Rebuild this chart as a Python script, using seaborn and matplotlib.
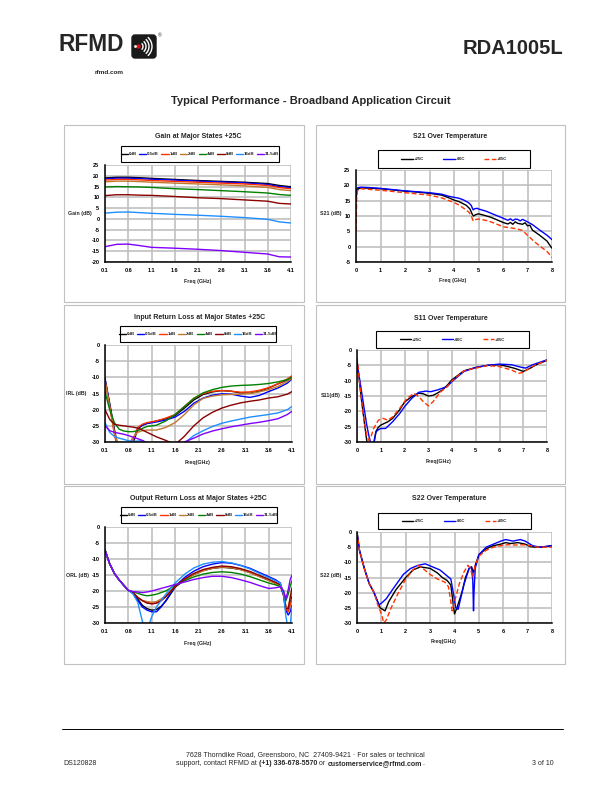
import matplotlib
matplotlib.use("Agg")
import numpy as np
import pandas as pd
import matplotlib.pyplot as plt
import seaborn as sns
from matplotlib.lines import Line2D
from matplotlib.patches import Rectangle, FancyBboxPatch, Circle, Arc

# ---------------- data ----------------
states = ["0dB", "0.5dB", "1dB", "2dB", "4dB", "8dB", "16dB", "31.5dB"]
state_colors = ["#000000", "#0000ff", "#ff3300", "#c07830", "#008000", "#8b0000", "#1e8fff", "#8000ff"]

gain_freq = [0.1, 0.35, 0.6, 0.85, 1.1, 1.6, 2.1, 2.6, 3.1, 3.6, 3.85, 4.1]
gain_0dB = [19.0, 19.3, 19.3, 19.1, 18.8, 18.3, 17.8, 17.4, 17.0, 16.4, 15.5, 14.9]
gain_05dB = [18.6, 18.9, 18.9, 18.7, 18.4, 18.0, 17.5, 17.1, 16.7, 16.0, 15.0, 14.5]
gain_1dB = [18.0, 18.3, 18.3, 18.1, 17.8, 17.4, 17.0, 16.6, 16.2, 15.5, 14.5, 14.0]
gain_2dB = [17.2, 17.5, 17.5, 17.3, 17.0, 16.6, 16.2, 15.8, 15.3, 14.6, 13.6, 13.1]
gain_4dB = [14.8, 15.0, 14.9, 14.8, 14.6, 14.0, 13.6, 13.1, 12.6, 12.0, 11.3, 10.9]
gain_8dB = [10.8, 11.2, 11.2, 11.0, 10.9, 10.4, 9.8, 9.4, 8.8, 8.2, 7.2, 6.9]
gain_16dB = [2.7, 3.1, 3.2, 2.9, 2.6, 2.1, 1.7, 1.2, 0.6, -0.2, -1.4, -1.9]
gain_31dB = [-12.9, -11.8, -11.7, -12.4, -13.2, -13.6, -14.1, -14.7, -15.5, -16.3, -17.6, -17.7]

irl_freq = [0.1, 0.2, 0.3, 0.4, 0.5, 0.6, 0.7, 0.8, 0.9, 1.0, 1.2, 1.4, 1.6, 1.8, 2.0,
            2.2, 2.4, 2.6, 2.8, 3.0, 3.2, 3.4, 3.6, 3.8, 4.0, 4.1]
irl_0dB = [-10.5, -18, -26, -33, -37, -34, -30.5, -26, -24.8, -24.2, -23.5, -22.8, -21.8, -19.5, -17,
           -15.3, -14.5, -14.1, -14.3, -14.8, -14.9, -14.3, -13.3, -12, -10.8, -10]
irl_05dB = [-10.2, -18.5, -27, -34, -38, -34, -29.5, -25.8, -24.8, -24.3, -23.8, -23.2, -22.3, -20.5, -18,
            -16.4, -15.5, -15.1, -15.2, -15.8, -16.2, -15.6, -14.4, -13.3, -11.8, -10.5]
irl_1dB = [-11, -19, -27.5, -34, -38, -34, -29.5, -25.5, -24.5, -24, -23.5, -22.6, -21.5, -19, -16.5,
           -15, -14.3, -14.1, -14.3, -14.6, -14.5, -14, -13.2, -12, -10.5, -9.5]
irl_2dB = [-11, -19, -27, -32, -34, -31, -28.5, -27, -26.5, -26.3, -26.3, -25.5, -24, -21.5, -18.5,
           -16.5, -15.8, -15.4, -15.3, -15.2, -15, -14.5, -13.8, -12.8, -11.2, -10.4]
irl_4dB = [-14.5, -20, -24, -26, -26.6, -26.8, -26.8, -26.5, -25.8, -25.2, -24.8, -23.5, -21.5, -19, -16.5,
           -14.8, -13.8, -13.1, -12.7, -12.5, -12.4, -12.2, -11.9, -11.4, -10.7, -10]
irl_8dB = [-20, -23, -24.5, -24.8, -25, -25.2, -25.4, -25.7, -26.3, -27, -28.4, -29.5, -30.8, -28.2, -25,
           -22.5, -20.8, -19.5, -18.6, -17.9, -17.4, -17, -16.4, -16, -15.2, -14.4]
irl_16dB = [-24, -27, -28.3, -28.8, -29.2, -29.6, -29.8, -29.7, -29.6, -30.4, -32, -33, -32, -30.3, -28,
            -26.5, -25.2, -24.2, -23.5, -22.9, -22.3, -21.9, -21.5, -21, -20, -19]
irl_31dB = [-25, -26.5, -27, -27.3, -27.6, -28, -28.5, -29, -29.5, -30.3, -32, -33, -32, -30, -28.8,
            -27.5, -26.6, -25.9, -25.3, -24.8, -24.3, -23.9, -23.4, -22.8, -21.5, -20.5]

orl_freq = [0.1, 0.2, 0.3, 0.4, 0.5, 0.6, 0.7, 0.8, 0.9, 1.0, 1.1, 1.2, 1.3, 1.4, 1.6, 1.8,
            2.0, 2.2, 2.4, 2.6, 2.8, 3.0, 3.2, 3.4, 3.6, 3.75, 3.85, 3.92, 3.97, 4.02, 4.06, 4.1]
orl_0dB = [-7.2, -11.5, -14.5, -16.5, -18.2, -19.8, -20.5, -22.5, -24.5, -25.5, -26, -25.8, -24.8, -23.2, -18.8, -16.6,
           -14.8, -13.6, -12.9, -12.6, -12.8, -13.3, -14.2, -15.4, -16.6, -17.6, -18.3, -21.5, -26.5, -26, -23.5, -21.5]
orl_05dB = [-7.2, -11.5, -14.5, -16.5, -18.2, -19.8, -20.5, -23, -25, -26, -26.5, -26.5, -25, -23, -18.5, -15.8,
            -13.8, -12.4, -11.6, -11.1, -11.3, -12, -12.9, -14.2, -15.5, -16.5, -17.5, -21, -26, -27.5, -26.5, -24.5]
orl_1dB = [-7.2, -11.5, -14.5, -16.5, -18.2, -19.8, -20.5, -22, -23, -23.5, -24, -23.8, -23, -21.8, -18.5, -16.3,
           -14.7, -13.5, -12.8, -12.4, -12.6, -13.2, -14.1, -15.3, -16.5, -17.5, -18.2, -21, -25.5, -26.5, -24.5, -22.5]
orl_2dB = [-7.2, -11.5, -14.5, -16.5, -18.2, -19.8, -20.5, -22, -23, -23.3, -23.5, -23.3, -22.5, -21.5, -18.5, -16.5,
           -14.9, -13.7, -12.9, -12.5, -12.7, -13.3, -14.3, -15.5, -16.7, -17.7, -18.3, -20.5, -24.5, -25.5, -22.5, -20.5]
orl_4dB = [-7.2, -11.5, -14.5, -16.5, -18.2, -19.8, -20.3, -20.7, -21.2, -21.5, -21.3, -21, -20.5, -20, -18.2, -16.8,
           -15.6, -14.7, -14.2, -14, -14.2, -14.7, -15.5, -16.5, -17.5, -18.1, -18.6, -20, -23, -21, -18.5, -16.8]
orl_8dB = [-7.2, -11.5, -14.5, -16.5, -18.2, -19.8, -20.5, -22, -23, -23.8, -24, -23.8, -23, -21.8, -18.5, -16.3,
           -14.5, -13.3, -12.6, -12.2, -12.4, -13, -13.9, -15.1, -16.3, -17.3, -18, -21, -25.5, -25.5, -22, -19]
orl_16dB = [-7.2, -11.5, -14.5, -16.5, -18.2, -19.8, -21, -23.5, -29.5, -32.5, -28, -25, -23, -21, -17.5, -14.8,
            -12.8, -11.6, -11, -10.8, -11.2, -12, -13.1, -14.5, -15.8, -16.8, -17.6, -21, -28, -32, -31, -25]
orl_31dB = [-7.2, -11.5, -14.5, -16.5, -18.2, -19.8, -20.2, -20.3, -20.5, -20.3, -20, -19.6, -19.2, -18.8, -18, -17.2,
            -16.4, -15.8, -15.4, -15.4, -15.8, -16.5, -17.3, -18.3, -19.2, -19, -18.7, -20, -22.5, -19.5, -16.5, -15]

temps = ["+25C", "-40C", "+85C"]
temp_colors = ["#000000", "#0000ff", "#ff3300"]

s21_freq_25 = [0.0, 0.03, 0.06, 0.1, 0.2, 0.5, 1.0, 1.5, 2.0, 2.5, 3.0, 3.5, 3.8, 4.0, 4.2, 4.5, 4.65, 4.75, 4.8, 4.9,
               5.0, 5.2, 5.5, 5.8, 6.0, 6.2, 6.3, 6.4, 6.5, 6.6, 6.8, 6.9, 7.0, 7.1, 7.2, 7.5, 7.8, 7.9, 8.0]
s21_25 = [15, 17.5, 18.5, 18.9, 19.1, 19.1, 18.9, 18.5, 18.1, 17.8, 17.4, 16.8, 15.9, 15.2, 14.7, 13.5, 12.3, 10.5, 10.0, 10.5,
          10.7, 10.3, 9.6, 8.6, 7.9, 7.4, 7.9, 7.3, 8.1, 7.6, 7.3, 7.8, 6.8, 7.0, 5.4, 3.7, 1.8, 0.6, -0.5]
s21_freq_m40 = [0.0, 0.03, 0.06, 0.1, 0.2, 0.5, 1.0, 1.5, 2.0, 2.5, 3.0, 3.5, 3.8, 4.0, 4.2, 4.4, 4.6, 4.7, 4.78, 4.85,
                4.95, 5.0, 5.3, 5.6, 6.0, 6.2, 6.3, 6.4, 6.5, 6.6, 6.7, 6.8, 6.9, 7.0, 7.2, 7.5, 7.8, 8.0]
s21_m40 = [17, 18.5, 19.2, 19.3, 19.4, 19.3, 19.0, 18.6, 18.2, 17.9, 17.6, 17.1, 16.4, 16.1, 15.8, 15.2, 14.3, 13.5, 12.0, 12.4,
           12.5, 12.3, 11.6, 10.6, 9.3, 8.6, 9.1, 8.5, 9.0, 8.9, 8.4, 8.9, 8.5, 8.1, 7.2, 5.4, 3.7, 2.3]
s21_freq_85 = [0.0, 0.03, 0.06, 0.1, 0.2, 0.5, 1.0, 1.5, 2.0, 2.5, 3.0, 3.5, 3.8, 4.0, 4.2, 4.4, 4.6, 4.7, 4.78, 4.85,
               5.0, 5.1, 5.4, 5.7, 6.0, 6.5, 6.8, 7.0, 7.3, 7.6, 7.8, 8.0]
s21_85 = [5, 16, 18.2, 18.6, 18.9, 18.7, 18.4, 18.0, 17.6, 17.2, 16.8, 15.9, 15.0, 14.4, 13.6, 12.5, 11.3, 10.2, 8.4, 8.8,
          9.0, 8.9, 8.4, 7.5, 6.5, 5.9, 5.3, 3.7, 1.5, -0.4, -1.6, -3.5]

s11_freq_25 = [0, 0.1, 0.2, 0.3, 0.4, 0.5, 0.6, 0.7, 0.8, 0.9, 1.0, 1.3, 1.5, 1.8, 2.0, 2.3, 2.6, 2.8, 3.0, 3.2,
               3.4, 3.6, 3.8, 4.0, 4.5, 5.0, 5.5, 6.0, 6.3, 6.6, 6.8, 7.0, 7.3, 7.6, 8.0]
s11_25 = [-3.2, -10, -17, -23, -29, -33, -33, -30.5, -26.5, -25.2, -24.5, -23.4, -22.3, -19.5, -17, -15.2, -14.1, -14.3, -15, -14.8,
          -14, -13, -11.5, -9.7, -6.8, -5.7, -5, -4.8, -5.3, -5.9, -6.4, -7, -5.9, -4.6, -3.4]
s11_freq_m40 = [0, 0.1, 0.2, 0.3, 0.4, 0.5, 0.6, 0.7, 0.8, 0.9, 1.0, 1.2, 1.5, 1.8, 2.0, 2.3, 2.6, 2.9, 3.1, 3.4,
                3.8, 4.0, 4.5, 5.0, 5.5, 6.0, 6.5, 6.9, 7.1, 7.4, 8.0]
s11_m40 = [-4.3, -9, -14, -19, -24, -28, -31, -31, -26.7, -26, -25.6, -25.6, -23.4, -20.7, -18.5, -15.8, -13.8, -13.4, -13.6, -13,
           -11.9, -10.3, -7, -5.7, -5, -4.6, -4.8, -5.6, -5.9, -4.8, -3.2]
s11_freq_85 = [0, 0.1, 0.2, 0.3, 0.4, 0.5, 0.6, 0.7, 0.9, 1.1, 1.3, 1.5, 1.8, 2.1, 2.4, 2.6, 2.8, 3.0, 3.2, 3.5,
               3.8, 4.0, 4.5, 5.0, 5.5, 6.0, 6.5, 6.8, 7.0, 7.3, 7.6, 8.0]
s11_85 = [-2.6, -10, -17, -23, -27.5, -29.5, -28, -25.6, -22.9, -22.3, -22.9, -21.8, -19, -15.8, -14.1, -15.2, -16.9, -18.2, -16.9, -13.8,
          -11.9, -10.1, -6.8, -5.9, -5.1, -5.4, -6.5, -7.6, -7.3, -5.7, -4.6, -3.3]

s22_freq_25 = [0, 0.1, 0.3, 0.5, 0.7, 0.85, 0.95, 1.05, 1.15, 1.3, 1.6, 2.0, 2.3, 2.6, 3.0, 3.3, 3.5, 3.7, 3.85, 3.95,
               4.0, 4.1, 4.3, 4.45, 4.6, 4.7, 4.78, 4.85, 5.0, 5.3, 5.6, 5.9, 6.1, 6.3, 6.6, 6.9, 7.1, 7.3, 7.6, 8.0]
s22_25 = [0, -6, -12, -17, -20, -23, -25, -25.5, -26, -23, -19, -15, -12.5, -11.5, -12, -13.5, -15, -16, -17.5, -24,
          -27, -25, -20, -15, -12, -11.5, -13.5, -11, -7.5, -5.5, -4.5, -4, -3.5, -3.8, -3.5, -4, -4.8, -5, -5, -4.5]
s22_freq_m40 = [0, 0.1, 0.3, 0.5, 0.7, 0.8, 0.9, 1.0, 1.2, 1.5, 1.9, 2.2, 2.5, 2.8, 3.1, 3.4, 3.7, 3.85, 3.95, 4.05,
                4.15, 4.25, 4.4, 4.6, 4.7, 4.75, 4.78, 4.8, 4.85, 5.0, 5.3, 5.6, 5.9, 6.1, 6.4, 6.7, 6.9, 7.2, 7.5, 8.0]
s22_m40 = [0, -6, -12, -17, -20, -22, -24, -23.5, -22, -18.5, -14, -12, -11, -10.5, -11.5, -12.5, -14.5, -15.5, -20, -25,
           -25.5, -22, -17, -12, -11.5, -16, -26, -20, -12, -7.5, -5, -4, -3, -2.5, -3, -2.5, -3, -4.5, -5, -4.5]
s22_freq_85 = [0, 0.1, 0.3, 0.5, 0.7, 0.85, 1.0, 1.1, 1.2, 1.4, 1.7, 2.0, 2.3, 2.5, 2.7, 3.0, 3.3, 3.6, 3.75, 3.85,
               3.9, 4.0, 4.2, 4.4, 4.55, 4.65, 4.75, 4.85, 5.0, 5.3, 5.6, 5.9, 6.2, 6.5, 6.8, 7.1, 7.4, 8.0]
s22_85 = [0, -6, -12, -17, -20, -24, -27, -30, -29, -25, -20, -15.5, -12.5, -11, -12, -14, -15.5, -16.5, -18, -23,
          -26, -23, -17, -13, -11, -12, -15, -11, -8, -6, -5, -4.5, -4.2, -4.3, -4.2, -4.5, -5, -5]

gain_xticks = [0.1, 0.6, 1.1, 1.6, 2.1, 2.6, 3.1, 3.6, 4.1]
temp_xticks = [0, 1, 2, 3, 4, 5, 6, 7, 8]

# ---------------- figure ----------------
sns.set_style("white")
plt.rcParams["font.family"] = ["Liberation Sans", "DejaVu Sans"]

W, H = 612, 792
fig = plt.figure(figsize=(W / 100, H / 100), dpi=100)


def fx(px):
    return px / W


def fy(py):
    return 1 - py / H


def add_ax(x0, y0, x1, y1):
    return fig.add_axes([fx(x0), fy(y1), fx(x1) - fx(x0), (y1 - y0) / H])


def style(ax, xlim, xticks, xlabels, ylim, yticks):
    ax.set_xlim(*xlim)
    ax.set_ylim(*ylim)
    ax.set_xticks(xticks)
    ax.set_xticklabels(xlabels)
    ax.set_yticks(yticks)
    ax.set_yticklabels([str(v) for v in yticks])
    ax.grid(True, color="#c0c0c0", lw=1.2)
    ax.set_axisbelow(True)
    for s in ["top", "right"]:
        ax.spines[s].set_visible(False)
    for s in ["left", "bottom"]:
        ax.spines[s].set_color("black")
        ax.spines[s].set_linewidth(1.1)
    ax.tick_params(labelsize=4, length=2, width=0.8, pad=2, direction="out", colors="black")
    for t in ax.get_xticklabels() + ax.get_yticklabels():
        t.set_fontweight("bold")
    ax.set_xlabel("")
    ax.set_ylabel("")


def ftext(px, py, s, size, weight="bold", ha="center", va="center", **kw):
    return fig.text(fx(px), fy(py), s, fontsize=size, fontweight=weight, ha=ha, va=va, **kw)


def panel_box(x0, y0, x1, y1):
    fig.add_artist(Rectangle((fx(x0), fy(y1)), fx(x1) - fx(x0), (y1 - y0) / H,
                             transform=fig.transFigure, fill=False, edgecolor="#c0c0c0", lw=0.8))


def legend_box(x0, y0, x1, y1, handles, labels, hl, cs):
    fig.add_artist(Rectangle((fx(x0), fy(y1)), fx(x1) - fx(x0), (y1 - y0) / H,
                             transform=fig.transFigure, fill=False, edgecolor="black", lw=0.8))
    fig.legend(handles, labels, loc="center", bbox_to_anchor=(fx((x0 + x1) / 2), fy((y0 + y1) / 2)),
               ncol=len(labels), frameon=False, prop={"size": 3.2, "weight": "bold"},
               handlelength=hl, handletextpad=0.2, columnspacing=cs, borderpad=0)


def draw(ax, x, y, color, dashed=False):
    kw = dict(dashes=(3.5, 1.8)) if dashed else {}
    sns.lineplot(x=x, y=y, ax=ax, color=color, lw=1.0, sort=False, estimator=None, **kw)


# panel boxes
for (y0, y1) in [(125, 302), (305, 484), (486, 664)]:
    panel_box(64, y0, 304, y1)
    panel_box(316, y0, 565, y1)

state_handles = [Line2D([], [], color=c, lw=1.0) for c in state_colors]
temp_handles = [Line2D([], [], color=temp_colors[0], lw=1.0),
                Line2D([], [], color=temp_colors[1], lw=1.0),
                Line2D([], [], color=temp_colors[2], lw=1.0, dashes=(3.5, 1.8))]

# ---- Gain ----
ax = add_ax(105, 165, 291, 262)
for yv, c in zip([gain_0dB, gain_05dB, gain_1dB, gain_2dB, gain_4dB, gain_8dB, gain_16dB, gain_31dB], state_colors):
    draw(ax, gain_freq, yv, c)
style(ax, (0.1, 4.1), gain_xticks, [f"{v:.1f}" for v in gain_xticks], (-20, 25), list(range(-20, 30, 5)))
ftext(198, 137, "Gain at Major States +25C", 5)
legend_box(121, 146, 279, 162, state_handles, states, 1.6, 0.55)
ftext(80, 214, "Gain (dB)", 3.8)
ftext(198, 281, "Freq (GHz)", 3.8)

# ---- S21 ----
ax = add_ax(356, 170, 552, 262)
draw(ax, s21_freq_25, s21_25, temp_colors[0])
draw(ax, s21_freq_m40, s21_m40, temp_colors[1])
draw(ax, s21_freq_85, s21_85, temp_colors[2], dashed=True)
style(ax, (0, 8), temp_xticks, [str(v) for v in temp_xticks], (-5, 25), list(range(-5, 30, 5)))
ftext(450, 136, "S21 Over Temperature", 5)
legend_box(378, 150, 530, 168, temp_handles, temps, 2.6, 4.3)
ftext(331, 214, "S21 (dB)", 3.8)
ftext(453, 280, "Freq (GHz)", 3.8)

# ---- IRL ----
ax = add_ax(105, 345, 292, 442)
for yv, c in zip([irl_0dB, irl_05dB, irl_1dB, irl_2dB, irl_4dB, irl_8dB, irl_16dB, irl_31dB], state_colors):
    draw(ax, irl_freq, yv, c)
style(ax, (0.1, 4.1), gain_xticks, [f"{v:.1f}" for v in gain_xticks], (-30, 0), list(range(-30, 5, 5)))
ftext(200, 317, "Input Return Loss at Major States +25C", 5)
legend_box(120, 326, 276, 342, state_handles, states, 1.6, 0.55)
ftext(76, 394, "IRL (dB)", 3.8)
ftext(198, 462, "Freq(GHz)", 3.8)

# ---- S11 ----
ax = add_ax(357, 350, 547, 442)
draw(ax, s11_freq_25, s11_25, temp_colors[0])
draw(ax, s11_freq_m40, s11_m40, temp_colors[1])
draw(ax, s11_freq_85, s11_85, temp_colors[2], dashed=True)
style(ax, (0, 8), temp_xticks, [str(v) for v in temp_xticks], (-30, 0), list(range(-30, 5, 5)))
ftext(451, 318, "S11 Over Temperature", 5)
legend_box(376, 331, 529, 348, temp_handles, temps, 2.6, 4.3)
ftext(331, 395, "S11(dB)", 3.8)
ftext(439, 461, "Freq(GHz)", 3.8)

# ---- ORL ----
ax = add_ax(105, 527, 292, 623)
for yv, c in zip([orl_0dB, orl_05dB, orl_1dB, orl_2dB, orl_4dB, orl_8dB, orl_16dB, orl_31dB], state_colors):
    draw(ax, orl_freq, yv, c)
style(ax, (0.1, 4.1), gain_xticks, [f"{v:.1f}" for v in gain_xticks], (-30, 0), list(range(-30, 5, 5)))
ftext(198, 498, "Output Return Loss at Major States +25C", 5)
legend_box(121, 507, 277, 523, state_handles, states, 1.6, 0.55)
ftext(78, 576, "ORL (dB)", 3.8)
ftext(198, 643, "Freq (GHz)", 3.8)

# ---- S22 ----
ax = add_ax(357, 532, 552, 623)
draw(ax, s22_freq_25, s22_25, temp_colors[0])
draw(ax, s22_freq_m40, s22_m40, temp_colors[1])
draw(ax, s22_freq_85, s22_85, temp_colors[2], dashed=True)
style(ax, (0, 8), temp_xticks, [str(v) for v in temp_xticks], (-30, 0), list(range(-30, 5, 5)))
ftext(449, 499, "S22 Over Temperature", 5)
legend_box(378, 513, 531, 529, temp_handles, temps, 2.6, 4.3)
ftext(331, 575, "S22 (dB)", 3.8)
ftext(444, 641, "Freq(GHz)", 3.8)

# ---------------- header ----------------
ftext(59, 51, "RFMD", 16.3, ha="left", va="baseline")
ftext(109, 74, "rfmd.com", 4.6, ha="center", va="baseline")
ftext(563, 54, "RDA1005L", 14.5, ha="right", va="baseline")
ftext(311, 104, "Typical Performance - Broadband Application Circuit", 8, ha="center", va="baseline")

# logo icon
lax = fig.add_axes([fx(131), fy(59), fx(157) - fx(131), (59 - 34) / H])
lax.set_xlim(0, 26)
lax.set_ylim(0, 25)
lax.axis("off")
lax.add_patch(FancyBboxPatch((1, 1), 24, 23, boxstyle="round,pad=0,rounding_size=3", fc="#1a1a1a", ec="#1a1a1a"))
lax.add_patch(Circle((7.5, 12.5), 1.5, color="#e01010"))
lax.add_patch(Circle((4.5, 12.5), 0.7, color="white"))
for r in [4.5, 7.5, 10.5, 13.5]:
    lax.add_patch(Arc((7.5, 12.5), 2 * r, 2 * r * 0.95, theta1=-45, theta2=45, color="white", lw=1.0))
ftext(160, 36, "®", 3.5, weight="normal")

# ---------------- footer ----------------
fig.add_artist(Line2D([fx(62), fx(563)], [fy(729), fy(729)], color="black", lw=0.7, transform=fig.transFigure))
ftext(63, 765, "DS120828", 5, weight="normal", ha="left", va="baseline")
ftext(554, 765, "3 of 10", 5, weight="normal", ha="right", va="baseline")
ftext(305, 756, "7628 Thorndike Road, Greensboro, NC  27409-9421 \u00b7 For sales or technical", 5,
      weight="normal", ha="center", va="baseline")

fig.canvas.draw()
renderer = fig.canvas.get_renderer()
pieces = [("support, contact RFMD at ", "normal"), ("(+1) 336-678-5570", "bold"), (" or ", "normal"),
          ("customerservice@rfmd.com", "bold"), (".", "normal")]
widths = []
for s, w in pieces:
    t = fig.text(0, 0, s, fontsize=5, fontweight=w)
    widths.append(t.get_window_extent(renderer=renderer).width)
    t.remove()
x = 300 - sum(widths) / 2
for (s, w), wd in zip(pieces, widths):
    fig.text(fx(x), fy(765), s, fontsize=5, fontweight=w, ha="left", va="baseline")
    x += wd

fig.savefig("out.png", dpi=100)
